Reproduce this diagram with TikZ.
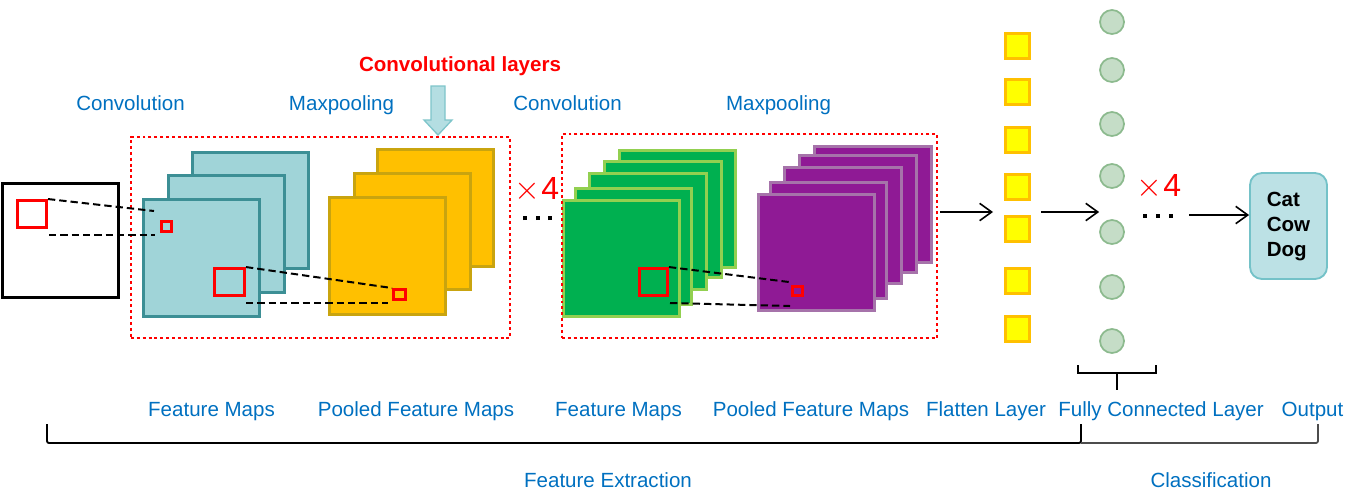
\documentclass[tikz,border=0pt]{standalone}
\usepackage{fontspec}
\setmainfont{Liberation Sans}
\usetikzlibrary{arrows.meta,calc}
\definecolor{lblue}{HTML}{0070C0}
\definecolor{tealF}{HTML}{A0D4D8}
\definecolor{tealB}{HTML}{3C8F95}
\definecolor{goldF}{HTML}{FFC000}
\definecolor{goldB}{HTML}{C9A40F}
\definecolor{greenF}{HTML}{00B050}
\definecolor{greenB}{HTML}{92D050}
\definecolor{purF}{HTML}{8F1A95}
\definecolor{purB}{HTML}{A673AA}
\definecolor{flatF}{HTML}{FFFF00}
\definecolor{flatB}{HTML}{FFC000}
\definecolor{circF}{HTML}{C5DDC7}
\definecolor{circB}{HTML}{8CBA8E}
\definecolor{outF}{HTML}{BCE1E5}
\definecolor{outB}{HTML}{74C2C8}
\definecolor{cyF}{HTML}{B4DEE2}
\definecolor{cyB}{HTML}{7EC5CA}
\definecolor{pureRed}{HTML}{FF0000}
\begin{document}
\begin{tikzpicture}[x=0.75pt,y=-0.75pt,
  lbl/.style={text=lblue, font=\fontsize{15.4}{18}\selectfont, inner sep=0, anchor=base},
  mapbox/.style={rectangle, inner sep=0, minimum width=116.5*0.75pt, minimum height=116.5*0.75pt, line width=1.9pt},
  tealmap/.style={mapbox, draw=tealB, fill=tealF},
  goldmap/.style={mapbox, draw=goldB, fill=goldF},
  greenmap/.style={mapbox, draw=greenB, fill=greenF},
  purmap/.style={mapbox, draw=purB, fill=purF},
  redsq/.style={rectangle, inner sep=0, draw=pureRed, line width=2.2pt},
  dashln/.style={line width=1.5pt, dash pattern=on 5.5pt off 3pt},
  redbox/.style={rectangle, inner sep=0, draw=pureRed, line width=2.2pt, dash pattern=on 2.2pt off 2.2pt},
  flatsq/.style={rectangle, inner sep=0, minimum size=24.5*0.75pt, draw=flatB, fill=flatF, line width=2pt},
  neuron/.style={circle, inner sep=0, minimum size=24*0.75pt, draw=circB, fill=circF, line width=1.3pt},
  arr/.style={-{Straight Barb[length=9pt,width=13pt]}, line width=1.2pt},
  times/.style={text=pureRed, inner sep=0},
  dots/.style={inner sep=0}
]
\useasboundingbox (0,0) rectangle (1351,497);

% input image
\node[rectangle, inner sep=0, draw=black, line width=2.3pt, minimum width=116*0.75pt, minimum height=114*0.75pt] (inp) at (60.5,240.5) {};
\node[redsq, minimum width=29*0.75pt, minimum height=27*0.75pt] (in0) at (32,214) {};

% teal feature maps
\node[tealmap] (t3) at (250.5,210.5) {};
\node[tealmap] (t2) at (226.5,234) {};
\node[tealmap] (t1) at (201.5,258) {};
\node[redsq, minimum width=10*0.75pt, minimum height=10*0.75pt] (s1) at (166.5,226.5) {};
\node[redsq, minimum width=30*0.75pt, minimum height=27*0.75pt] (b1) at (229.5,282) {};

% gold pooled maps
\node[goldmap] (y3) at (435.5,208) {};
\node[goldmap] (y2) at (412.5,231.5) {};
\node[goldmap] (y1) at (387.5,256) {};
\node[redsq, minimum width=12*0.75pt, minimum height=10*0.75pt] (s2) at (399.5,294.5) {};

% green feature maps
\node[greenmap] (g5) at (677.5,209) {};
\node[greenmap] (g4) at (663,219.5) {};
\node[greenmap] (g3) at (648,231.5) {};
\node[greenmap] (g2) at (633.5,246.5) {};
\node[greenmap] (g1) at (621.5,258.5) {};
\node[redsq, minimum width=28*0.75pt, minimum height=27*0.75pt] (b2) at (653.5,282) {};

% purple pooled maps
\node[purmap] (p5) at (873,204.5) {};
\node[purmap] (p4) at (858,214) {};
\node[purmap] (p3) at (843,225.5) {};
\node[purmap] (p2) at (828.5,240.5) {};
\node[purmap] (p1) at (816.5,252.5) {};
\node[redsq, minimum width=10*0.75pt, minimum height=9*0.75pt] (s3) at (797.5,291) {};

% dotted boxes
\node[redbox, minimum width=379*0.75pt, minimum height=201*0.75pt] (box1) at (320.5,237.5) {};
\node[redbox, minimum width=375*0.75pt, minimum height=204*0.75pt] (box2) at (749.5,236) {};

% dashed projection lines
\coordinate (c1) at (154,211);
\coordinate (c2s) at (49,235);
\coordinate (c2) at (155,235);
\coordinate (c4s) at (246,303);
\coordinate (c4) at (388,303);
\coordinate (c5) at (789,282);
\coordinate (c6s) at (670,303);
\coordinate (c6) at (790,306);
\draw[dashln] (in0.north east) -- (c1);
\draw[dashln] (c2s) -- (c2);
\draw[dashln] (b1.north east) -- (s2.north west);
\draw[dashln] (c4s) -- (c4);
\draw[dashln] (b2.north east) -- (c5);
\draw[dashln] (c6s) -- (c6);

% convolutional layers arrow
\node[text=pureRed, font=\bfseries\fontsize{15.4}{18}\selectfont, inner sep=0, anchor=base] (convl) at (460,71) {Convolutional layers};
\draw[fill=cyF, draw=cyB, line width=1pt] (431,86) -- (445,86) -- (445,120) -- (452,120) -- (438,135) -- (424,120) -- (431,120) -- cycle;

% top labels
\node[lbl] (l1) at (130.5,110) {Convolution};
\node[lbl] (l2) at (341.5,110) {Maxpooling};
\node[lbl] (l3) at (567.5,110) {Convolution};
\node[lbl] (l4) at (778.5,110) {Maxpooling};

% x4 and dots
\node[times] (x4a) at (537,190) {{\fontsize{33}{33}\selectfont$\times$}\kern0.5pt{\fontsize{24}{24}\selectfont 4}};
\node[dots] (d1) at (537.5,218) {\rule{3pt}{3pt}\hspace{6.7pt}\rule{3pt}{3pt}\hspace{6.7pt}\rule{3pt}{3pt}};

% flatten layer
\foreach \i/\yy in {1/46,2/92,3/140,4/187,5/229,6/281,7/329}{
  \node[flatsq] (f\i) at (1017.5,\yy) {};
}
% fully connected neurons
\foreach \i/\yy in {1/22,2/70,3/124,4/176,5/232,6/287,7/341}{
  \node[neuron] (n\i) at (1112,\yy) {};
}
\node[times] (x4b) at (1159,186.5) {{\fontsize{33}{33}\selectfont$\times$}\kern0.5pt{\fontsize{24}{24}\selectfont 4}};
\node[dots] (d2) at (1158,215.5) {\rule{3pt}{3pt}\hspace{6.7pt}\rule{3pt}{3pt}\hspace{6.7pt}\rule{3pt}{3pt}};

% output
\node[rectangle, rounded corners=9pt, draw=outB, fill=outF, line width=1.4pt, minimum width=77*0.75pt, minimum height=106*0.75pt, align=left, font=\bfseries\fontsize{15.4}{18.75}\selectfont, inner sep=0] (out) at (1288.5,226) {Cat\\Cow\\Dog};

% arrows
\coordinate (a1s) at (940,212);
\coordinate (a1e) at (993,212);
\coordinate (a2s) at (1041,212);
\coordinate (a3s) at (1189,215);
\draw[arr] (a1s) -- (a1e);
\draw[arr] (a2s) -- (a2s -| n5.west);
\draw[arr] (a3s) -- (a3s -| out.west);

% small brace under neurons
\draw[line width=1.5pt] (1078,365) -- (1078,373) -- (1156,373) -- (1156,365);
\coordinate (fcb) at (1117,390);
\draw[line width=1.5pt] (1117,373) -- (fcb);

% bottom labels
\node[lbl] (b_fm1) at (211.5,416) {Feature Maps};
\node[lbl] (b_pf1) at (416,416) {Pooled Feature Maps};
\node[lbl] (b_fm2) at (618.5,416) {Feature Maps};
\node[lbl] (b_pf2) at (811,416) {Pooled Feature Maps};
\node[lbl] (b_fl) at (986,416) {Flatten Layer};
\node[lbl] (b_fc) at (1161,416) {Fully Connected Layer};
\node[lbl] (b_out) at (1312.5,416) {Output};

% big brackets
\draw[line width=1.4pt, rounded corners=1.5pt] (47,424) -- (47,443) -- (1081,443) -- (1081,424);
\draw[line width=1.3pt, draw=black!70, rounded corners=1.5pt] (1081,443) -- (1318,443) -- (1318,424);
\node[lbl] (fe) at (608,487) {Feature Extraction};
\node[lbl] (cl) at (1211,487) {Classification};
\end{tikzpicture}
\end{document}
